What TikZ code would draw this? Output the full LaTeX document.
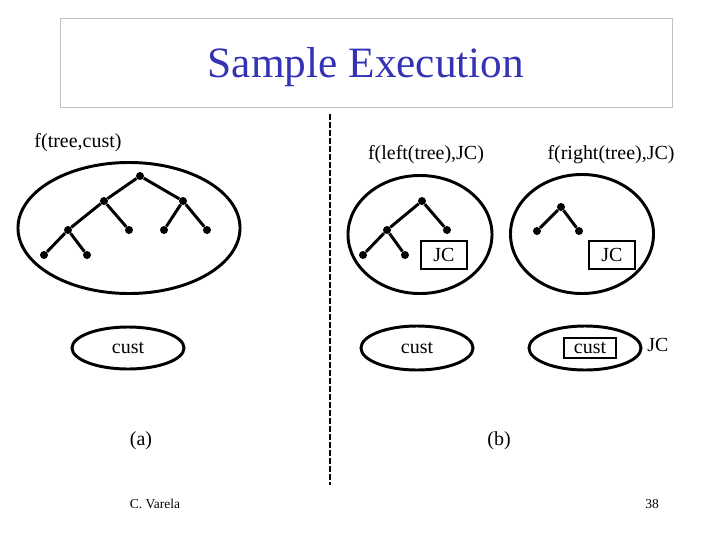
\documentclass[tikz,border=0pt]{standalone}
\usepackage{fontspec}
\setmainfont{Liberation Serif}
\usetikzlibrary{shapes.geometric}
\definecolor{titleblue}{RGB}{51,51,179}
\definecolor{framegray}{RGB}{192,192,192}
\begin{document}
\begin{tikzpicture}[x=0.025cm, y=-0.025cm, every node/.style={font=\fontsize{14.2}{17}\selectfont},
	dot/.style={circle, fill, inner sep=0pt, minimum size=0.2cm},
	edge/.style={line width=2.1pt},
	blob/.style={ellipse, draw, line width=2.1pt, inner sep=0pt},
	tag/.style={draw, line width=1.4pt, inner sep=0pt}]
	\useasboundingbox (0,0) rectangle (720,540);
	\draw[framegray, line width=0.7pt] (60,18) rectangle (672,107);
	\node[font=\fontsize{30.8}{36}\selectfont, text=titleblue] (title) at (366,67) {Sample Execution};
	% divider
	\coordinate (divtop) at (330,114); \coordinate (divbot) at (330,485);
	\draw[line width=2.1pt, dash pattern=on 0.15cm off 0.05cm] (divtop) -- (divbot);
	% (a)
	\node (lcall) at (78,143) {f(tree,cust)};
	\node[blob, minimum width=5.55cm, minimum height=3.275cm] (ltree) at (129,228) {};
	\foreach \n/\x/\y in {r/140/176, a/104/201, b/183/201, aa/68/230, ab/129/230, ba/164/230, bb/207/230, aaa/44/255, aab/87/255}
		\node[dot] (l\n) at (\x,\y) {};
	\foreach \p/\c in {r/a, r/b, a/aa, a/ab, b/ba, b/bb, aa/aaa, aa/aab}
		\draw[edge] (l\p) -- (l\c);
	\node[blob, minimum width=2.8cm, minimum height=1.05cm] (lcust) at (128,348) {cust};
	\node (alabel) at (141,441) {(a)};
	% (b) left half
	\node (mcall) at (426,155) {f(left(tree),JC)};
	\node[blob, minimum width=3.6cm, minimum height=2.95cm] (mtree) at (420,234.5) {};
	\foreach \n/\x/\y in {r/422/201, a/387/230, b/447/230, aa/363/255, ab/405/255}
		\node[dot] (m\n) at (\x,\y) {};
	\foreach \p/\c in {r/a, r/b, a/aa, a/ab}
		\draw[edge] (m\p) -- (m\c);
	\node[tag, minimum width=1.15cm, minimum height=0.7cm] (mjc) at (444,255) {JC};
	\node[blob, minimum width=2.8cm, minimum height=1.1cm] (mcust) at (417,348) {cust};
	% (b) right half
	\node (rcall) at (611,155) {f(right(tree),JC)};
	\node[blob, minimum width=3.575cm, minimum height=2.975cm] (rtree) at (582,234) {};
	\foreach \n/\x/\y in {r/561/207, a/537/231, b/579/231}
		\node[dot] (r\n) at (\x,\y) {};
	\foreach \p/\c in {r/a, r/b}
		\draw[edge] (r\p) -- (r\c);
	\node[tag, minimum width=1.15cm, minimum height=0.7cm] (rjc) at (612,255) {JC};
	\node[blob, minimum width=2.8cm, minimum height=1.1cm] (rcust) at (585,348) {};
	\node[tag, line width=2.1pt, minimum width=1.3cm, minimum height=0.5cm] (rcustbox) at (590,348) {cust};
	\node (rcustjc) at (658,345) {JC};
	\node (blabel) at (499,441) {(b)};
	% footer
	\node[font=\fontsize{9.6}{11}\selectfont] (author) at (155,504) {C. Varela};
	\node[font=\fontsize{9.6}{11}\selectfont] (page) at (652,504) {38};
\end{tikzpicture}
\end{document}
